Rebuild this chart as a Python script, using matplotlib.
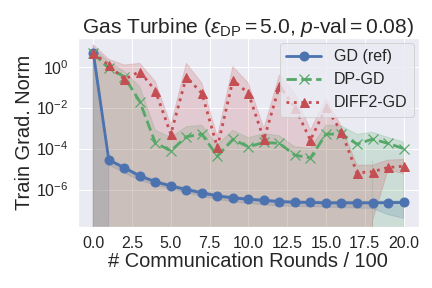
import numpy as np
import matplotlib
matplotlib.use("Agg")
import matplotlib.pyplot as plt
import seaborn as sns

sns.set_theme(style="darkgrid")
plt.rcParams['font.family'] = ['Liberation Sans', 'DejaVu Sans']
plt.rcParams['mathtext.fontset'] = 'custom'
plt.rcParams['mathtext.rm'] = 'Liberation Sans'
plt.rcParams['mathtext.it'] = 'Liberation Sans:italic'

rounds = list(range(21))

gd_mean = [4.8, 2.8e-5, 1.15e-5, 4.6e-6, 2.4e-6, 1.5e-6, 1.0e-6, 6.9e-7, 4.9e-7, 3.9e-7, 3.4e-7,
           2.95e-7, 2.6e-7, 2.4e-7, 2.35e-7, 2.25e-7, 2.25e-7, 2.25e-7, 2.25e-7, 2.3e-7, 2.35e-7]
gd_upper = [11.0, 3.4e-5, 1.4e-5, 5.6e-6, 2.9e-6, 1.8e-6, 1.2e-6, 8.3e-7, 5.9e-7, 4.7e-7, 4.1e-7,
            3.5e-7, 3.1e-7, 2.9e-7, 2.8e-7, 2.7e-7, 2.7e-7, 2.7e-7, 2.7e-7, 2.8e-7, 2.8e-7]
gd_lower = [0, 1.6e-5, 6.5e-6, 2.8e-6, 1.6e-6, 1.1e-6, 7e-7, 4.6e-7, 3.3e-7, 2.6e-7, 2.1e-7,
            1.8e-7, 1.6e-7, 1.5e-7, 1.45e-7, 1.4e-7, 1.3e-7, 1.25e-7, 1.2e-7, 6e-8, 3.9e-8]

dp_mean = [4.5, 0.83, 0.32, 0.0195, 1.9e-4, 7.8e-5, 3.8e-4, 5.1e-4, 4.3e-5, 2.8e-4, 1.23e-4,
           2.0e-4, 1.8e-4, 4.8e-5, 3.5e-5, 5.1e-4, 5.1e-4, 1.66e-4, 2.9e-4, 1.8e-4, 1.0e-4]
dp_upper = [7.9, 1.74, 0.58, 0.105, 7.9e-4, 3.5e-4, 1.17e-3, 1.4e-3, 1.5e-4, 7.9e-4, 3.4e-4,
            5.5e-4, 4.2e-4, 1.23e-4, 1.02e-4, 1.4e-3, 1.26e-3, 5e-4, 6.3e-4, 3.5e-4, 2.1e-4]
dp_lower = [0, 0, 0, 0, 0, 0, 0, 0, 0, 0, 0,
            0, 0, 0, 0, 0, 0, 0, 2.5e-5, 0, 0]

diff2_mean = [4.8, 1.2, 0.24, 0.58, 0.068, 5.1e-4, 0.32, 0.05, 1.15e-4, 0.22, 0.05,
              2.8e-4, 0.115, 0.01, 2.6e-4, 0.0102, 6.6e-4, 6.6e-6, 7.4e-6, 1.2e-5, 1.38e-5]
diff2_upper = [11.5, 2.3, 1.2, 1.45, 0.19, 1.4e-3, 1.45, 0.155, 3.8e-4, 1.0, 0.155,
               9.8e-4, 0.39, 0.05, 7.9e-4, 0.028, 1.17e-3, 1.55e-5, 1.55e-5, 2.75e-5, 2.95e-5]
diff2_lower = [0, 0, 0, 0, 0, 0, 0, 0, 0, 0, 0,
               0, 0, 0, 0, 0, 0, 0, 3e-8, 9e-6, 6e-6]

x_ticks = [0, 2.5, 5, 7.5, 10, 12.5, 15, 17.5, 20]

pal = sns.color_palette("deep")
blue, green, red = pal[0], pal[2], pal[3]

fig, ax = plt.subplots(figsize=(6, 4), dpi=72)
ax.set_yscale('log', nonpositive='clip')

ax.plot(rounds, gd_mean, '-o', color=blue, lw=2.8, ms=9, label='GD (ref)')
ax.fill_between(rounds, gd_lower, gd_upper, color=blue, alpha=0.2)
ax.plot(rounds, dp_mean, '--x', color=green, lw=2.8, ms=10, mew=1.2, label='DP-GD')
ax.fill_between(rounds, dp_lower, dp_upper, color=green, alpha=0.2)
ax.plot(rounds, diff2_mean, ':^', color=red, lw=2.8, ms=9, label='DIFF2-GD')
ax.fill_between(rounds, diff2_lower, diff2_upper, color=red, alpha=0.2)

ax.set_ylim(1.5e-8, 25)
ax.set_xticks(x_ticks)
ax.set_xticklabels([f'{t:.1f}' for t in x_ticks])
ax.set_yticks([1e-6, 1e-4, 1e-2, 1e0])
ax.minorticks_off()
ax.tick_params(labelsize=16, pad=3)
ax.set_xlabel('# Communication Rounds / 100', fontsize=20, labelpad=1)
ax.set_ylabel('Train Grad. Norm', fontsize=20, labelpad=2)
ax.set_title(r'Gas Turbine ($\varepsilon_{\rm DP} = 5.0$, $p$-val$ = 0.08$)', fontsize=21, pad=5)
ax.legend(loc='upper right', fontsize=16, borderaxespad=0.3, handlelength=2.2)

fig.subplots_adjust(left=0.18, right=0.97, top=0.868, bottom=0.212)
fig.savefig('out.png')
